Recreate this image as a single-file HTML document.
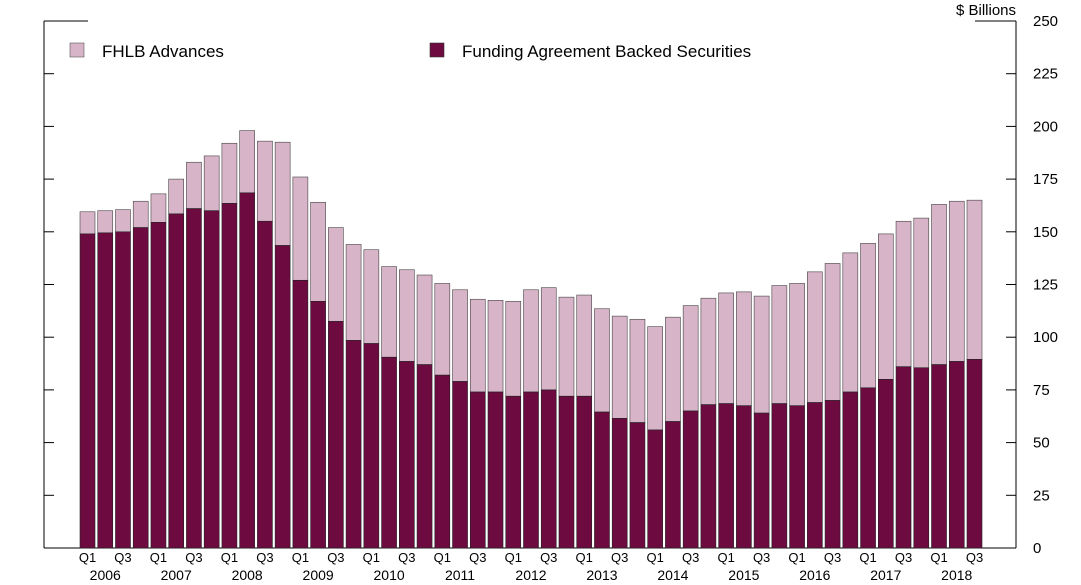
<!DOCTYPE html>
<html><head><meta charset="utf-8"><style>
body{margin:0;background:#fff}
svg{font-family:"Liberation Sans",sans-serif;display:block}
</style></head><body>
<svg id="chart" width="1081" height="585" viewBox="0 0 1081 585">
<g id="axes"></g>
<g id="bars"></g>
<g id="labels"></g>
<text x="1016" y="15" text-anchor="end" font-size="15">$ Billions</text>
<g>
<rect x="70" y="43" width="14" height="14" fill="#d8b4c8" stroke="#555" stroke-width="0.6"/>
<text x="102" y="57" font-size="17">FHLB Advances</text>
<rect x="430" y="43" width="14" height="14" fill="#6d0a40" stroke="#333" stroke-width="0.6"/>
<text x="462" y="57" font-size="17">Funding Agreement Backed Securities</text>
</g>
</svg>
<script>
const years=["2006","2007","2008","2009","2010","2011","2012","2013","2014","2015","2016","2017","2018"];
const fabs=[149,149.5,150,152,154.5,158.5,161,160,163.5,168.5,155,143.5,127,117,107.5,98.5,97,90.5,88.5,87,82,79,74,74,72,74,75,72,72,64.5,61.5,59.5,56,60,65,68,68.5,67.5,64,68.5,67.5,69,70,74,76,80,86,85.5,87,88.5,89.5];
const fhlb=[10.5,10.5,10.5,12.5,13.5,16.5,22,26,28.5,29.5,38,49,49,47,44.5,45.5,44.5,43,43.5,42.5,43.5,43.5,44,43.5,45,48.5,48.5,47,48,49,48.5,49,49,49.5,50,50.5,52.5,54,55.5,56,58,62,65,66,68.5,69,69,71,76,76,75.5];
const yTicks=[0,25,50,75,100,125,150,175,200,225,250];
const NS="http://www.w3.org/2000/svg";
const x0=44,x1=1016,y0=548,yTop=21,ymax=250;
const y=v=>y0-(v/ymax)*(y0-yTop);
const step=(967-80)/50, bw=15;
const bx=i=>80+i*step;
function mk(tag,attrs,parent){const e=document.createElementNS(NS,tag);for(const k in attrs)e.setAttribute(k,attrs[k]);parent.appendChild(e);return e;}
const axes=document.getElementById('axes'),bars=document.getElementById('bars'),labels=document.getElementById('labels');
let e;
e=mk('line',{x1:x0,y1:yTop,x2:x0,y2:y0,stroke:'#000'},axes);


e=mk('line',{x1:x1,y1:yTop,x2:x1,y2:y0,stroke:'#000'},axes);


e=mk('line',{x1:x0,y1:y0,x2:x1,y2:y0,stroke:'#000'},axes);


e=mk('line',{x1:x0,y1:yTop,x2:88,y2:yTop,stroke:'#000'},axes);


e=mk('line',{x1:975,y1:yTop,x2:x1,y2:yTop,stroke:'#000'},axes);


yTicks.forEach(v=>{
  e=mk('line',{x1:x0,y1:y(v),x2:x0+10,y2:y(v),stroke:'#000'},axes);
  
  
  e=mk('line',{x1:x1-10,y1:y(v),x2:x1,y2:y(v),stroke:'#000'},axes);
  
  
  e=mk('text',{x:1033,y:y(v)+5,'font-size':15},axes);
  e.textContent=v;
  
  
});
fabs.forEach((d,i)=>{
  const t=d+fhlb[i];
  e=mk('rect',{x:bx(i),y:y(t),width:bw,height:y(d)-y(t),fill:'#d8b4c8',stroke:'#444','stroke-width':0.6},bars);
  
  
  e=mk('rect',{x:bx(i),y:y(d),width:bw,height:y0-y(d),fill:'#6d0a40',stroke:'#222','stroke-width':0.6},bars);
  
  
  if(i%2===0){
    e=mk('text',{x:bx(i)+bw/2,y:562,'text-anchor':'middle','font-size':13},labels);
    e.textContent=(i%4===0)?'Q1':'Q3';
    
    
  }
});
years.forEach((yr,k)=>{
  const cx=bx(k*4)+bw/2+step;
  e=mk('text',{x:cx,y:580,'text-anchor':'middle','font-size':14},labels);
  e.textContent=yr;
  
  
});
</script>
</body></html>
